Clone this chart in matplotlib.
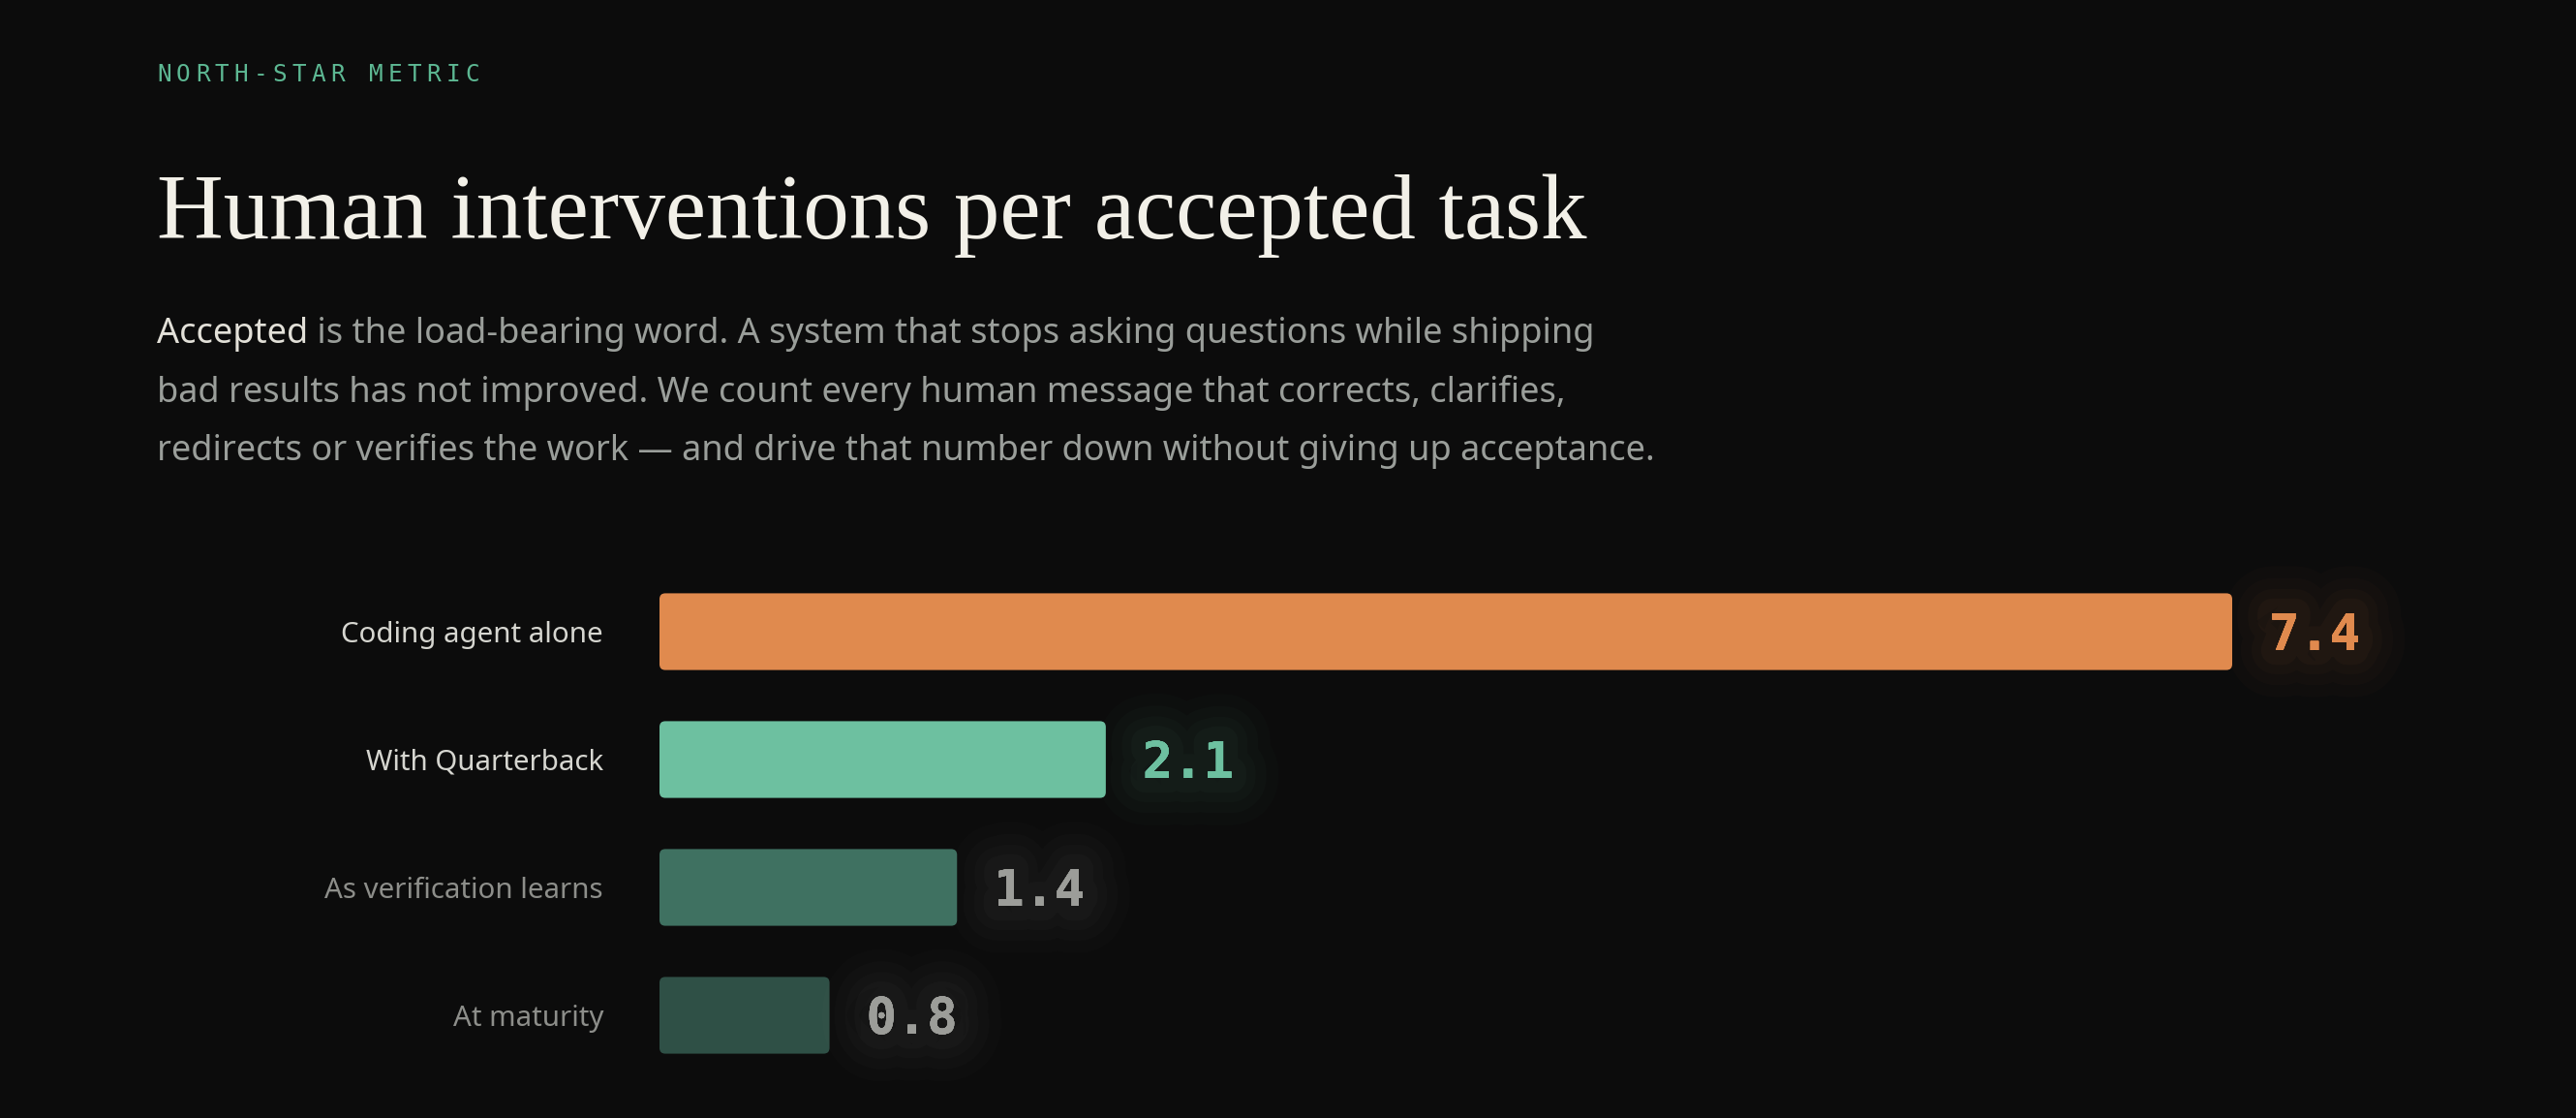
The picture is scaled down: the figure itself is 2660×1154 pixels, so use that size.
import matplotlib
matplotlib.use("Agg")
import matplotlib.pyplot as plt
import matplotlib.patheffects as pe
from matplotlib.patches import FancyBboxPatch

W, H, DPI = 2660, 1154, 100
BG = "#0c0c0c"
PT = 72 / DPI  # points per pixel

EYEBROW = "NORTH-STAR METRIC"
TITLE = "Human interventions per accepted task"
LEAD_WORD = "Accepted"
PARAGRAPH = [
    " is the load-bearing word. A system that stops asking questions while shipping",
    "bad results has not improved. We count every human message that corrects, clarifies,",
    "redirects or verifies the work \u2014 and drive that number down without giving up acceptance.",
]

CATEGORIES = ["Coding agent alone", "With Quarterback", "As verification learns", "At maturity"]
VALUES = [7.4, 2.1, 1.4, 0.8]
VALUE_LABELS = ["7.4", "2.1", "1.4", "0.8"]

BAR_COLORS = ["#e08a4e", "#6dc0a0", "#3f7161", "#2f5046"]
VALUE_COLORS = ["#e08a4e", "#6dc0a0", "#9c9d99", "#9c9d99"]
LABEL_COLORS = ["#d6d6d0", "#d6d6d0", "#8d8e8a", "#8d8e8a"]

SANS = ["Noto Sans", "DejaVu Sans"]
SERIF = ["Liberation Serif", "DejaVu Serif"]
MONO = ["DejaVu Sans Mono"]


def fxy(x, y):
    return x / W, 1 - y / H


def fit_width(fig, txt, target_px):
    r = fig.canvas.get_renderer()
    w = txt.get_window_extent(r).width
    txt.set_fontsize(txt.get_fontsize() * target_px / w)


fig = plt.figure(figsize=(W / DPI, H / DPI), dpi=DPI, facecolor=BG)

# eyebrow, letter-spaced
for i, ch in enumerate(EYEBROW):
    fig.text(*fxy(162 + i * 19.9, 84), ch, family=MONO, fontsize=17.6,
             color="#5db893", va="baseline", ha="left")

# title
title = fig.text(*fxy(162, 246), TITLE, family=SERIF, fontsize=70,
                 color="#f2f0e8", va="baseline", ha="left")
fit_width(fig, title, 1478)

# paragraph
probe = fig.text(0, 0, LEAD_WORD + PARAGRAPH[0], family=SANS, fontsize=26)
fit_width(fig, probe, 1485)
para_size = probe.get_fontsize()
probe.remove()

baselines = [354, 414.5, 475]
lead = fig.text(*fxy(162, baselines[0]), LEAD_WORD, family=SANS, fontsize=para_size,
                color="#e2e0d8", va="baseline", ha="left")
lead_w = lead.get_window_extent(fig.canvas.get_renderer()).width
fig.text(*fxy(162 + lead_w, baselines[0]), PARAGRAPH[0], family=SANS, fontsize=para_size,
         color="#9a9e9a", va="baseline", ha="left")
for line, yb in zip(PARAGRAPH[1:], baselines[1:]):
    fig.text(*fxy(162, yb), line, family=SANS, fontsize=para_size,
             color="#9a9e9a", va="baseline", ha="left")

# bar chart
bar_left, bar_max_px = 681, 1624
row_px = 132
x_px = bar_max_px / max(VALUES)
ax = fig.add_axes([bar_left / W, 1 - 1114 / H, 1 - bar_left / W, 4 * row_px / H])
ax.set_facecolor("none")
ax.set_xlim(0, (W - bar_left) / x_px)
ax.set_ylim(len(VALUES) - 0.5, -0.5)
for s in ax.spines.values():
    s.set_visible(False)
ax.set_xticks([])

ypos = list(range(len(VALUES)))
bars = ax.barh(ypos, VALUES, height=0.6, color=BAR_COLORS)
radius = 6 / x_px
for b in bars:
    p = FancyBboxPatch((b.get_x(), b.get_y()), b.get_width(), b.get_height(),
                       boxstyle=f"round,pad=0,rounding_size={radius}",
                       mutation_aspect=x_px / row_px,
                       facecolor=b.get_facecolor(), edgecolor="none")
    b.set_visible(False)
    ax.add_patch(p)

probe = ax.text(0, 0, CATEGORIES[0], family=SANS, fontsize=23)
fit_width(fig, probe, 271)
label_size = probe.get_fontsize()
probe.remove()

ax.set_yticks(ypos)
ax.set_yticklabels(CATEGORIES, family=SANS, fontsize=label_size)
ax.tick_params(axis="y", length=0, pad=58 * PT)
for lbl, c in zip(ax.get_yticklabels(), LABEL_COLORS):
    lbl.set_color(c)

for y, v, txt, c in zip(ypos, VALUES, VALUE_LABELS, VALUE_COLORS):
    glow = [pe.withStroke(linewidth=w, foreground=c, alpha=a)
            for w, a in [(70, 0.018), (52, 0.022), (36, 0.028), (22, 0.035)]]
    ax.annotate(txt, xy=(v, y), xytext=(38 * PT, -19 * PT), textcoords="offset points",
                family=MONO, fontweight="bold", fontsize=37.5, color=c,
                va="baseline", ha="left",
                path_effects=glow + [pe.Normal()])

fig.savefig("out.png", dpi=DPI, facecolor=BG)
